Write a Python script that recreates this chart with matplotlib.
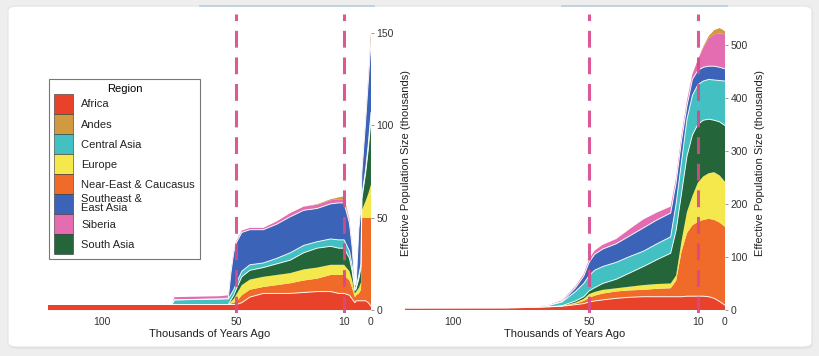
import matplotlib
matplotlib.use('Agg')
import numpy as np
import matplotlib.pyplot as plt
from matplotlib.patches import Patch, FancyBboxPatch
from matplotlib.lines import Line2D

plt.rcParams['font.family'] = ['Liberation Sans', 'DejaVu Sans']

# ============================================================
#  DATA  (layer thickness, thousands; time in thousands of years ago)
# ============================================================

# ---- left panel ----
years_left = [120, 74, 73, 56, 53, 52, 51, 50, 48, 45, 40, 35, 30, 25,
              20, 15, 12, 10, 8, 7, 6, 5.5, 4.5, 3.7, 3.4, 2, 1, 0]
africa_left = [3, 3, 3, 3, 3, 3, 3, 3, 4, 7, 9, 9, 9, 9.5,
               10, 10, 9, 9, 8, 6, 4, 5, 5, 5, 5, 5, 4, 2]
near_east_left = [0, 0, 0, 0, 0, 0.5, 1, 1.5, 4, 4, 3.5, 4.5, 5.5, 6.5,
                  7, 9, 10, 10, 8, 6, 3, 3, 4, 6, 45, 45, 46, 48]
europe_left = [0, 0, 0, 0, 0, 1, 2, 4, 5.5, 5.5, 5.5, 5.5, 5.5, 6,
               6, 5.5, 5.5, 5.5, 5, 4, 2, 2, 3, 4, 4, 9, 13, 18]
south_asia_left = [0, 0, 0, 0, 0, 1, 2, 3, 4.5, 5, 5, 6, 7, 9,
                   10.5, 10, 9, 9, 7, 5, 1.5, 1.5, 5, 8, 6, 15, 24, 35]
central_asia_left = [0, 0, 2.5, 3, 3, 3, 3, 3, 3, 3, 2.5, 3, 4, 4,
                     3.5, 4, 4.5, 4.5, 4, 3, 1, 1, 2, 2, 2, 2, 3, 4]
se_asia_left = [0, 0, 0, 0, 0.5, 12, 20, 22, 21, 19, 18, 18.5, 19.5, 19,
                18, 19, 20, 20, 15, 10, 1.5, 2, 25, 30, 12, 26, 34, 38]
siberia_left = [0, 0, 1.5, 1.5, 1.5, 1.5, 1, 1, 1, 1, 1, 1.5, 2, 2,
                2, 2, 2, 2, 1.5, 1, 0.5, 0.5, 1, 1, 1, 1, 2, 3]
andes_left = [0, 0, 0, 0, 0, 0, 0, 0, 0, 0, 0, 0, 0, 0,
              0.3, 0.5, 1, 1.5, 0.5, 0.3, 0, 0, 0, 0, 0, 1, 1, 2]

# ---- right panel ----
years_right = [118, 80, 70, 65, 60, 55, 52, 50, 48, 45, 40, 35, 30, 25,
               20, 18, 16, 14, 12, 10, 8, 6, 4, 2, 0]
africa_right = [4, 4, 5, 6, 7, 10, 12, 15, 17, 19, 22, 24, 25, 25,
                25, 25, 25, 26, 26, 26, 26, 25, 22, 16, 9]
near_east_right = [0, 0, 0, 0, 0, 2, 5, 8, 10, 12, 13, 13, 13, 15,
                   16, 30, 85, 119, 134, 140, 144, 147, 148, 149, 148]
europe_right = [0, 0, 0, 0, 0.5, 2, 4, 7, 7, 7, 6, 7, 9, 9,
                9, 10, 20, 40, 55, 74, 82, 86, 90, 89, 85]
south_asia_right = [0, 0, 0, 0, 0.5, 3, 4, 6, 8, 12, 17, 26, 35, 46,
                    57, 85, 90, 105, 115, 110, 106, 102, 98, 101, 106]
central_asia_right = [0, 0.5, 1, 2.5, 7, 18, 25, 29, 33, 32, 32, 31, 29, 30,
                      31, 50, 60, 70, 75, 75, 74, 75, 76, 78, 84]
se_asia_right = [0, 0, 0, 0, 1, 7, 14, 25, 30, 33, 35, 39, 44, 45,
                 45, 40, 40, 25, 30, 27, 26, 25, 26, 25, 23]
siberia_right = [0, 0, 0.5, 1, 2, 3, 4, 6, 7, 8, 9, 13, 16, 14,
                 12, 10, 10, 10, 10, 20, 37, 53, 60, 64, 65]
andes_right = [0, 0, 0, 0, 0, 0, 0, 0, 0, 0, 0, 0, 0, 0,
               0, 0, 0, 0, 0, 0, 2, 4, 8, 10, 6]

# stacking order bottom -> top
stack_names = ['Africa', 'Near-East & Caucasus', 'Europe', 'South Asia',
               'Central Asia', 'Southeast & East Asia', 'Siberia', 'Andes']
legend_names = ['Africa', 'Andes', 'Central Asia', 'Europe',
                'Near-East & Caucasus', 'Southeast &\nEast Asia', 'Siberia', 'South Asia']
region_colors = {
    'Africa': '#e8422b',
    'Andes': '#d19a3e',
    'Central Asia': '#43c1c2',
    'Europe': '#f5e84c',
    'Near-East & Caucasus': '#f06a2a',
    'Southeast & East Asia': '#3b63b7',
    'Siberia': '#e46db2',
    'South Asia': '#24663a',
}

left_layers = [africa_left, near_east_left, europe_left, south_asia_left,
               central_asia_left, se_asia_left, siberia_left, andes_left]
right_layers = [africa_right, near_east_right, europe_right, south_asia_right,
                central_asia_right, se_asia_right, siberia_right, andes_right]

# ============================================================
#  FIGURE
# ============================================================
W, H = 820, 356
fig = plt.figure(figsize=(W / 100, H / 100), dpi=100, facecolor='#eeeeee')

# white card behind the charts
shadow = FancyBboxPatch((9 / W, 7 / H), 804 / W, 340 / H,
                        boxstyle='round,pad=0,rounding_size=0.012',
                        transform=fig.transFigure, facecolor='#e2e2e2',
                        edgecolor='none', zorder=-3)
card = FancyBboxPatch((8 / W, 9 / H), 804 / W, 341 / H,
                      boxstyle='round,pad=0,rounding_size=0.012',
                      transform=fig.transFigure, facecolor='white',
                      edgecolor='#e4e4e4', lw=0.8, zorder=-2)
fig.patches.extend([shadow, card])
# faint underline left over from the cropped header
for x0, x1 in [(200, 374), (562, 727)]:
    fig.add_artist(Line2D([x0 / W, x1 / W], [1 - 6 / H, 1 - 6 / H],
                          color='#b9cde0', lw=1.2, transform=fig.transFigure))


def px_axes(x0, x1, y_top, y_bot):
    return fig.add_axes([x0 / W, 1 - y_bot / H, (x1 - x0) / W, (y_bot - y_top) / H])


def draw_panel(ax, years, layers, xlim, ylim, yticks):
    ax.set_facecolor('none')
    cols = [region_colors[n] for n in stack_names]
    ax.stackplot(years, *layers, colors=cols, lw=0, zorder=2)
    tops = np.cumsum(np.array(layers, dtype=float), axis=0)
    # thin white seams between some of the layers
    for i in [0, 3, 4, 5]:
        ax.plot(years, tops[i], color='white', lw=0.7, alpha=0.9, zorder=3)
    for x in [50, 10]:
        ax.axvline(x, color='#d8488a', lw=2.2, ls=(0, (5.5, 3.2)),
                   alpha=0.9, zorder=5)
    ax.set_xlim(*xlim)
    ax.set_ylim(*ylim)
    ax.set_xticks([100, 50, 10, 0])
    ax.set_yticks(yticks)
    ax.yaxis.tick_right()
    ax.yaxis.set_label_position('right')
    ax.tick_params(axis='x', length=0, pad=3, labelsize=7.5, labelcolor='#333333')
    ax.tick_params(axis='y', length=2.5, width=0.6, color='#888888', pad=1.5,
                   labelsize=7.5, labelcolor='#333333')
    for s in ax.spines.values():
        s.set_visible(False)
    ax.set_xlabel('Thousands of Years Ago', fontsize=8, color='#222222', labelpad=1)
    ax.set_ylabel('Effective Population Size (thousands)', fontsize=8,
                  color='#222222', labelpad=5)


ax1 = px_axes(48, 371, 14, 313)
draw_panel(ax1, years_left, left_layers, (120, 0), (-1.6, 160.3), [0, 50, 100, 150])

ax2 = px_axes(405, 725, 14, 313)
draw_panel(ax2, years_right, right_layers, (117.8, 0), (-5.7, 558.5),
           [0, 100, 200, 300, 400, 500])

# legend (left panel)
handles = [Patch(facecolor=region_colors[n.replace('\n', ' ')], edgecolor='#333333', lw=0.4)
           for n in legend_names]
leg = fig.legend(handles, legend_names, title='Region', loc='upper left',
                 bbox_to_anchor=(49 / W, 1 - 79 / H), bbox_transform=fig.transFigure,
                 borderaxespad=0, fontsize=8, title_fontsize=8,
                 handlelength=1.7, handleheight=2.4, labelspacing=0,
                 handletextpad=0.75, borderpad=0.45, frameon=True, fancybox=False)
leg.get_frame().set_edgecolor('#555555')
leg.get_frame().set_linewidth(0.8)
for txt in leg.get_texts():
    txt.set_linespacing(0.85)
    txt.set_color('#222222')

plt.savefig('out.png', dpi=100, facecolor=fig.get_facecolor())
